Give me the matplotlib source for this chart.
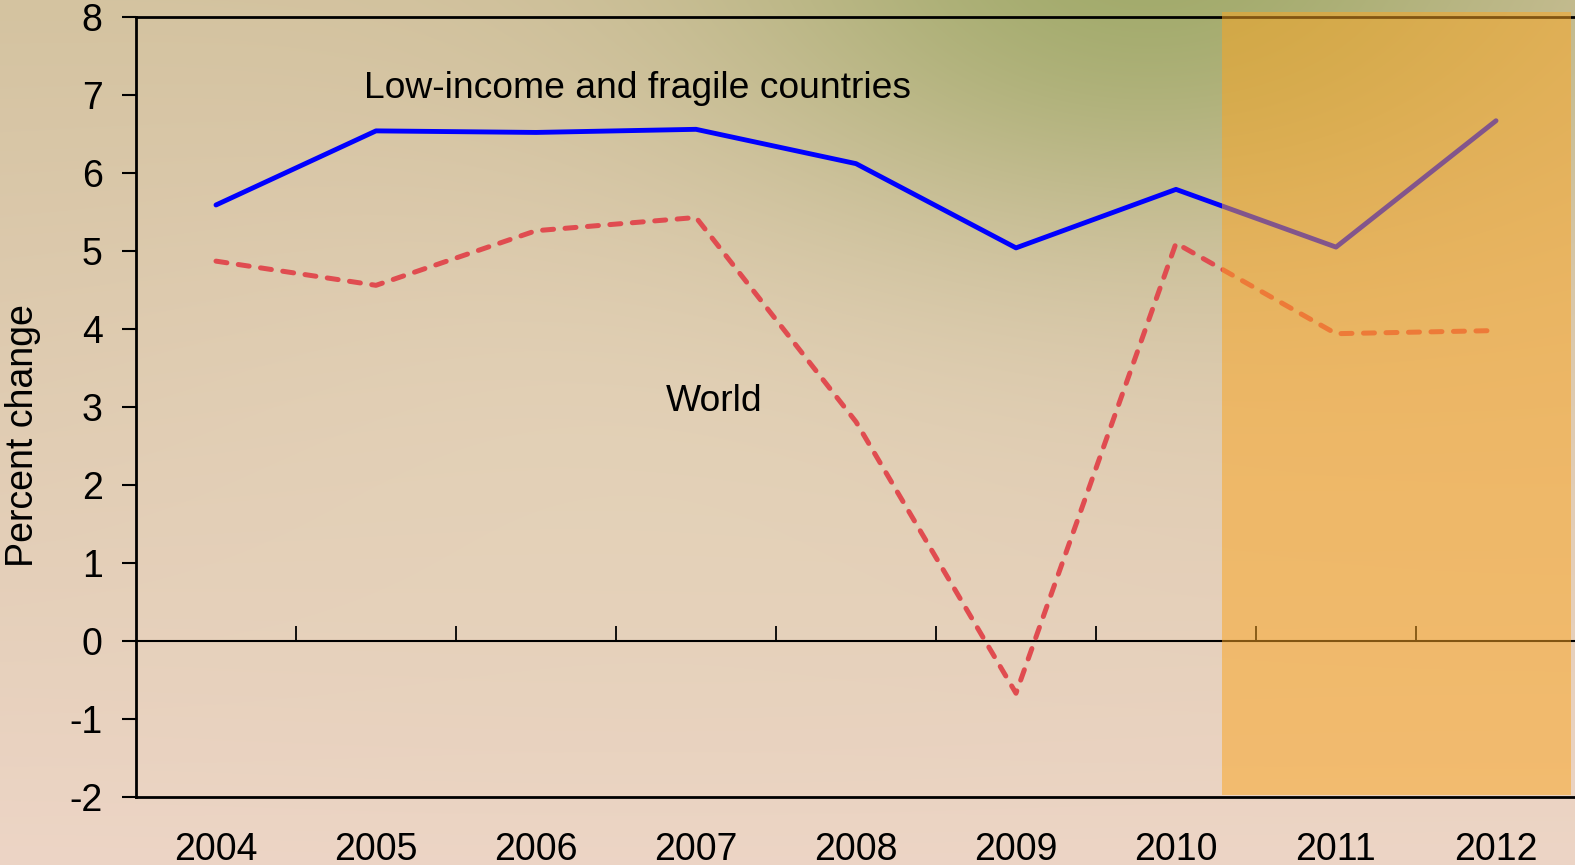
import numpy as np
import matplotlib.pyplot as plt
from matplotlib.patches import Rectangle

plt.rcParams['font.family'] = ['Liberation Sans', 'DejaVu Sans']
plt.rcParams['axes.unicode_minus'] = False

# Real GDP growth, percent change
years = ['2004', '2005', '2006', '2007', '2008', '2009', '2010', '2011', '2012']
low_income = [5.59, 6.54, 6.52, 6.56, 6.12, 5.04, 5.79, 5.05, 6.67]
world = [4.87, 4.56, 5.26, 5.43, 2.81, -0.67, 5.10, 3.94, 3.98]
projection_start = 6.29  # shaded projection period (category units)
projection_end = 8.47

W, H = 1575, 865
fig = plt.figure(figsize=(W / 100, H / 100), dpi=100)

# soft slide-style background: tan at top, pinkish at bottom, green glow top right
yy, xx = np.mgrid[0:H, 0:W]
t = (yy / H)[..., None]
top = np.array([212, 195, 160]) / 255
bottom = np.array([237, 213, 198]) / 255
bg = top * (1 - t) + bottom * t
mid = np.exp(-(((xx - 650) / 500) ** 2 + ((yy - 470) / 260) ** 2))[..., None]
bg = bg * (1 - 0.5 * mid) + 0.5 * mid * np.array([229, 213, 186]) / 255
glow = np.exp(-(((xx - 1150) / 420) ** 2 + ((yy + 40) / 260) ** 2))[..., None]
bg = bg * (1 - 0.8 * glow) + 0.8 * glow * np.array([150, 165, 95]) / 255
bgax = fig.add_axes([0, 0, 1, 1], zorder=-5)
bgax.imshow(np.clip(bg, 0, 1), aspect='auto', extent=[0, 1, 0, 1])
bgax.axis('off')

ax = fig.add_axes([136 / W, (H - 797) / H, 1440 / W, 780 / H])
ax.patch.set_alpha(0)

x = np.arange(len(years))
ax.plot(x, low_income, color='#0000ff', lw=3.5, solid_capstyle='round', zorder=3)
ax.plot(x, world, color='#e04c50', lw=3.6, ls=(0, (2.2, 2.3)),
        dash_capstyle='round', zorder=3)

ax.set_xlim(-0.5, len(years) - 0.5)
ax.set_ylim(-2, 8)
ax.set_yticks(range(-2, 9))
ax.set_xticks(x)
ax.set_xticklabels(years)
ax.tick_params(axis='x', length=0, pad=25, labelsize=27)
ax.tick_params(axis='y', length=10, width=1.5, pad=14, labelsize=27)
for side in ['left', 'bottom', 'top', 'right']:
    ax.spines[side].set_linewidth(2)

# zero line carries the category boundary ticks
zero = ax.secondary_xaxis(2 / 10)
zero.set_xticks(x[:-1] + 0.5)
zero.tick_params(direction='in', length=11, width=1.3, labelbottom=False)
zero.spines['bottom'].set_linewidth(1.5)

ax.text(0.925, 6.96, 'Low-income and fragile countries', fontsize=26.8,
        va='baseline', ha='left')
ax.text(2.81, 2.95, 'World', fontsize=26.8, va='baseline', ha='left')

fig.text(23 / W, 1 - 436 / H, 'Percent change', rotation=90, fontsize=27,
         ha='center', va='center')

band = Rectangle((projection_start, -1.97), projection_end - projection_start, 10.03,
                 facecolor=(250 / 255, 165 / 255, 35 / 255), alpha=0.52,
                 edgecolor='none', clip_on=False, zorder=10)
ax.add_patch(band)

fig.savefig('out.png', dpi=100)
